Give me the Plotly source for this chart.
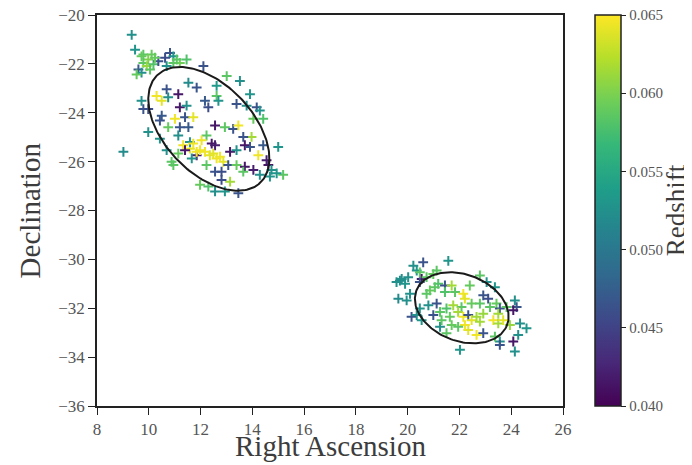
import numpy as np
import plotly.graph_objects as go

# ---- cluster 1 galaxies (RA, Dec, redshift) ----
ra1 = [9.34, 9.47, 9.79, 10.11, 10.82, 10.95, 10.63, 9.98, 9.79, 9.60, 9.72, 9.53, 10.18, 10.37, 10.95,
       11.20, 11.46, 12.11, 13.01, 13.52, 13.91, 12.62, 11.85, 11.53, 10.69, 10.30, 10.50, 10.75, 11.14,
       11.20, 11.46, 12.17, 12.30, 12.62, 12.69, 13.39, 13.78, 14.17, 14.29, 14.04, 14.42, 9.72, 9.79,
       9.98, 10.50, 10.43, 11.01, 11.40, 11.72, 10.75, 11.20, 11.53, 9.98, 9.02, 12.56, 12.94, 13.26,
       13.46, 13.97, 13.65, 14.42, 15.00, 12.23, 12.43, 12.56, 12.04, 11.33, 11.59, 11.40, 11.85, 12.17,
       12.36, 12.62, 12.88, 13.14, 13.39, 13.71, 13.91, 14.23, 14.55, 14.62, 14.74, 15.19, 14.94, 11.14,
       10.69, 10.88, 11.66, 12.23, 12.56, 12.81, 13.07, 13.39, 13.71, 14.04, 14.29, 14.68, 13.65, 11.98,
       12.30, 12.56, 12.94, 13.14, 13.46, 12.81, 11.59, 10.95, 11.85, 11.14, 10.43, 9.92, 10.05, 10.24,
       10.69, 11.08, 9.72, 11.98, 12.49, 12.75, 11.72]
dec1 = [-20.81, -21.42, -21.62, -21.62, -21.55, -21.69, -21.75, -21.82, -21.96, -22.23, -22.36, -22.43,
        -22.02, -21.89, -21.96, -21.96, -21.82, -22.09, -22.50, -22.70, -23.24, -22.90, -22.97, -22.77,
        -23.04, -23.31, -23.51, -23.37, -23.24, -23.78, -23.71, -23.51, -23.78, -23.31, -23.51, -23.64,
        -23.71, -23.78, -23.91, -24.25, -24.25, -23.51, -23.85, -23.85, -24.12, -24.32, -24.25, -24.18,
        -24.18, -24.59, -24.59, -24.59, -24.79, -25.60, -24.52, -24.59, -24.66, -24.52, -24.99, -24.99,
        -25.33, -25.40, -24.93, -25.26, -25.33, -25.13, -25.33, -25.47, -25.53, -25.74, -25.60, -25.74,
        -25.87, -26.01, -25.60, -25.53, -25.33, -25.40, -25.74, -25.94, -26.14, -26.34, -26.54, -26.48,
        -25.67, -25.53, -26.01, -25.87, -26.14, -26.41, -26.41, -26.14, -26.14, -26.21, -26.34, -26.54,
        -26.61, -26.41, -26.95, -27.02, -27.22, -27.22, -26.82, -27.29, -26.75, -25.20, -26.14, -25.60,
        -24.93, -25.06, -22.09, -22.23, -21.75, -22.09, -21.82, -21.69, -25.53, -25.67, -25.80, -25.26]
z1 = [0.0525, 0.0530, 0.0585, 0.0590, 0.0465, 0.0530, 0.0460, 0.0600, 0.0585, 0.0470, 0.0525, 0.0590,
      0.0580, 0.0465, 0.0585, 0.0595, 0.0580, 0.0465, 0.0585, 0.0525, 0.0530, 0.0535, 0.0465, 0.0520,
      0.0465, 0.0645, 0.0640, 0.0525, 0.0415, 0.0415, 0.0525, 0.0470, 0.0460, 0.0585, 0.0530, 0.0465,
      0.0525, 0.0465, 0.0530, 0.0590, 0.0580, 0.0525, 0.0465, 0.0460, 0.0470, 0.0465, 0.0645, 0.0465,
      0.0640, 0.0590, 0.0465, 0.0470, 0.0525, 0.0520, 0.0415, 0.0585, 0.0465, 0.0645, 0.0615, 0.0465,
      0.0470, 0.0530, 0.0585, 0.0415, 0.0420, 0.0645, 0.0645, 0.0640, 0.0415, 0.0420, 0.0645, 0.0640,
      0.0645, 0.0640, 0.0415, 0.0525, 0.0415, 0.0465, 0.0645, 0.0420, 0.0415, 0.0525, 0.0585, 0.0530,
      0.0590, 0.0525, 0.0585, 0.0530, 0.0585, 0.0465, 0.0460, 0.0465, 0.0590, 0.0415, 0.0420, 0.0525,
      0.0530, 0.0585, 0.0590, 0.0580, 0.0525, 0.0530, 0.0615, 0.0465, 0.0460, 0.0525, 0.0585, 0.0645,
      0.0525, 0.0530, 0.0610, 0.0585, 0.0590, 0.0525, 0.0585, 0.0590, 0.0645, 0.0640, 0.0645, 0.0645]

# ---- cluster 2 galaxies ----
ra2 = [21.57, 20.60, 20.22, 20.35, 20.47, 20.02, 19.70, 19.57, 19.90, 19.77, 20.54, 20.47, 20.73, 20.99,
       21.12, 21.18, 21.44, 21.05, 20.86, 20.73, 21.44, 21.70, 21.83, 22.15, 22.21, 22.40, 22.79, 23.05,
       23.37, 22.92, 23.11, 22.79, 22.47, 22.08, 21.76, 21.50, 21.12, 20.80, 20.47, 20.15, 20.35, 20.54,
       19.96, 19.64, 20.09, 20.99, 21.25, 21.63, 21.95, 22.15, 22.34, 22.47, 22.66, 22.92, 23.18, 23.43,
       23.56, 23.82, 24.14, 24.21, 24.08, 23.50, 23.31, 23.50, 23.69, 23.95, 24.34, 24.59, 24.27, 24.08,
       23.56, 23.37, 22.92, 22.66, 22.34, 22.21, 21.95, 21.70, 21.50, 21.25, 21.31, 22.02, 24.14, 23.56,
       22.79]
dec2 = [-30.06, -30.12, -30.26, -30.46, -30.53, -30.73, -30.87, -30.93, -31.00, -30.80, -30.80, -30.93,
        -30.73, -30.60, -30.46, -31.00, -31.07, -31.14, -31.27, -31.41, -31.34, -31.07, -31.34, -31.41,
        -31.61, -31.07, -30.66, -30.93, -31.14, -31.47, -31.61, -31.81, -31.81, -31.95, -31.88, -32.01,
        -31.81, -31.88, -32.01, -32.35, -32.28, -32.49, -31.68, -31.61, -31.41, -32.28, -32.15, -32.35,
        -32.15, -32.35, -32.28, -32.49, -32.35, -32.22, -31.95, -31.81, -32.01, -31.95, -31.68, -31.95,
        -32.08, -32.22, -32.49, -32.62, -32.49, -32.69, -32.62, -32.82, -33.09, -33.36, -33.36, -33.16,
        -33.02, -33.09, -32.89, -32.69, -32.76, -32.69, -33.02, -32.76, -32.49, -33.70, -33.77, -33.50,
        -32.55]
z2 = [0.0530, 0.0465, 0.0525, 0.0530, 0.0585, 0.0525, 0.0520, 0.0525, 0.0530, 0.0525, 0.0415, 0.0465,
      0.0585, 0.0590, 0.0585, 0.0580, 0.0465, 0.0585, 0.0590, 0.0585, 0.0580, 0.0615, 0.0585, 0.0645,
      0.0640, 0.0590, 0.0585, 0.0525, 0.0530, 0.0465, 0.0460, 0.0585, 0.0590, 0.0585, 0.0615, 0.0580,
      0.0465, 0.0525, 0.0530, 0.0465, 0.0525, 0.0530, 0.0525, 0.0520, 0.0525, 0.0465, 0.0585, 0.0590,
      0.0615, 0.0645, 0.0465, 0.0640, 0.0615, 0.0610, 0.0585, 0.0590, 0.0465, 0.0585, 0.0525, 0.0465,
      0.0415, 0.0615, 0.0645, 0.0615, 0.0640, 0.0610, 0.0525, 0.0530, 0.0525, 0.0415, 0.0525, 0.0585,
      0.0465, 0.0645, 0.0640, 0.0645, 0.0585, 0.0590, 0.0585, 0.0525, 0.0585, 0.0530, 0.0525, 0.0465,
      0.0615]

# ---- contour ellipses: centre (RA, Dec), semi-axes, rotation (deg) ----
ell_cx = [12.32, 22.09]
ell_cy = [-24.66, -31.98]
ell_a = [2.97, 1.89]
ell_b = [1.75, 1.35]
ell_ang = [-49.7, -24.2]

x_ticks = [8, 10, 12, 14, 16, 18, 20, 22, 24, 26]
y_ticks = [-36, -34, -32, -30, -28, -26, -24, -22, -20]
cbar_ticks = [0.040, 0.045, 0.050, 0.055, 0.060, 0.065]

FONT = "Liberation Serif"
TXT = "#3c3c3c"

fig = go.Figure()

ra = ra1 + ra2
dec = dec1 + dec2
zz = z1 + z2
fig.add_trace(go.Scatter(
    x=ra, y=dec, mode="markers",
    marker=dict(
        symbol="cross-thin-open", size=7, color=zz,
        colorscale="Viridis", cmin=0.040, cmax=0.065,
        line=dict(width=2),
        showscale=True,
        colorbar=dict(
            x=1.0687, xanchor="left", xref="paper", y=0.5, yanchor="middle",
            len=1.0, lenmode="fraction", thickness=26, xpad=0, ypad=0,
            outlinecolor="#222", outlinewidth=1.5,
            ticks="outside", ticklen=5, tickwidth=1.2, tickcolor="#222",
            tickvals=cbar_ticks, ticktext=[f"{v:.3f}" for v in cbar_ticks],
            ticklabeloverflow="allow",
            tickfont=dict(family=FONT, size=15, color="#555"),
        ),
    ),
    showlegend=False, hoverinfo="skip",
))

t = np.linspace(0, 2 * np.pi, 200)
for cx, cy, a, b, ang in zip(ell_cx, ell_cy, ell_a, ell_b, ell_ang):
    th = np.deg2rad(ang)
    ex = cx + a * np.cos(t) * np.cos(th) - b * np.sin(t) * np.sin(th)
    ey = cy + a * np.cos(t) * np.sin(th) + b * np.sin(t) * np.cos(th)
    fig.add_trace(go.Scatter(x=ex, y=ey, mode="lines",
                             line=dict(color="#1a1a1a", width=2),
                             showlegend=False, hoverinfo="skip"))

axis_common = dict(
    showgrid=False, zeroline=False, showline=True, linecolor="#222", linewidth=1.5,
    mirror=True, ticks="outside", ticklen=7, tickwidth=1.2, tickcolor="#222",
    ticklabeloverflow="allow",
    tickfont=dict(family=FONT, size=17, color="#555"),
)
fig.update_xaxes(range=[8, 26], tickvals=x_ticks, **axis_common)
fig.update_yaxes(range=[-36, -20], tickvals=y_ticks, **axis_common)

fig.add_annotation(text="Right Ascension", xref="paper", yref="paper", x=0.5, y=-0.103,
                   xanchor="center", yanchor="middle", showarrow=False,
                   font=dict(family=FONT, size=29, color=TXT))
fig.add_annotation(text="Declination", xref="paper", yref="paper", x=-0.144, y=0.5,
                   xanchor="center", yanchor="middle", showarrow=False, textangle=-90,
                   font=dict(family=FONT, size=29, color=TXT))
fig.add_annotation(text="Redshift", xref="paper", yref="paper", x=1.242, y=0.5,
                   xanchor="center", yanchor="middle", showarrow=False, textangle=-90,
                   font=dict(family=FONT, size=27, color=TXT))

fig.update_layout(
    width=684, height=457,
    margin=dict(l=89, r=129, t=7, b=59, autoexpand=False),
    paper_bgcolor="white", plot_bgcolor="white",
    font=dict(family=FONT),
)

fig.write_html("out.html")
